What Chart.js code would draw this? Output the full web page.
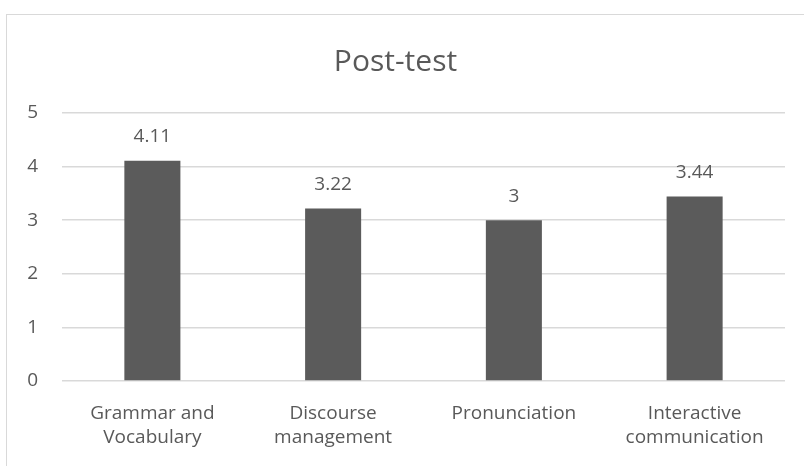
<!DOCTYPE html>
<html>
<head>
<meta charset="utf-8">
<script src="https://cdn.jsdelivr.net/npm/chart.js@4/dist/chart.umd.min.js"></script>
<style>
  body { margin: 0; background: #fff; }
  #wrap { position: relative; width: 804px; height: 466px; overflow: hidden; }
  #frame { position: absolute; left: 6px; top: 14px; width: 820px; height: 480px; border: 1px solid #d9d9d9; box-sizing: border-box; }
  canvas { position: absolute; left: 0; top: 0; }
</style>
</head>
<body>
<div id="wrap">
  <div id="frame"></div>
  <canvas id="cv" width="804" height="466"></canvas>
</div>
<script>
// chart data
var categories = [["Grammar and", "Vocabulary"], ["Discourse", "management"], ["Pronunciation"], ["Interactive", "communication"]];
var scores = [4.11, 3.22, 3, 3.44];
var yTicks = [0, 1, 2, 3, 4, 5];
var chartTitle = "Post-test";

var textColor = "#595959";
var fontFamily = "'Open Sans', 'Noto Sans', sans-serif";

// draws the value above every bar
var valueLabels = {
    id: "valueLabels",
    afterDatasetsDraw: function (chart) {
        var ctx = chart.ctx;
        var meta = chart.getDatasetMeta(0);
        ctx.save();
        ctx.fillStyle = textColor;
        ctx.font = "19px " + fontFamily;
        ctx.textAlign = "center";
        ctx.textBaseline = "middle";
        meta.data.forEach(function (bar, i) {
            ctx.fillText(String(chart.data.datasets[0].data[i]), bar.x, bar.y - 24);
        });
        ctx.restore();
    }
};

var ctx = document.getElementById("cv").getContext("2d");
new Chart(ctx, {
    type: "bar",
    data: {
        labels: categories,
        datasets: [{
            data: scores,
            backgroundColor: "#5b5b5b",
            categoryPercentage: 1,
            barPercentage: 0.31
        }]
    },
    options: {
        responsive: false,
        animation: false,
        layout: { padding: { left: 6, right: 19, top: 44, bottom: 0 } },
        plugins: {
            legend: { display: false },
            tooltip: { enabled: false },
            title: {
                display: true,
                text: chartTitle,
                color: textColor,
                font: { family: fontFamily, size: 30, weight: "normal", lineHeight: 1.2 },
                padding: { top: 0, bottom: 33 }
            }
        },
        scales: {
            x: {
                grid: { display: false },
                border: { display: false },
                afterFit: function (axis) { axis.height = 85; },
                ticks: {
                    color: textColor,
                    font: { family: fontFamily, size: 19, lineHeight: 1.3 },
                    maxRotation: 0,
                    autoSkip: false,
                    padding: 12
                }
            },
            y: {
                min: 0,
                max: 5,
                afterBuildTicks: function (axis) {
                    axis.ticks = yTicks.map(function (v) { return { value: v }; });
                },
                afterFit: function (axis) { axis.width = 56; },
                grid: { color: "#d9d9d9", lineWidth: 1.5, drawTicks: false },
                border: { display: false },
                ticks: {
                    color: textColor,
                    font: { family: fontFamily, size: 19 },
                    padding: 24
                }
            }
        }
    },
    plugins: [valueLabels]
});
</script>
</body>
</html>
